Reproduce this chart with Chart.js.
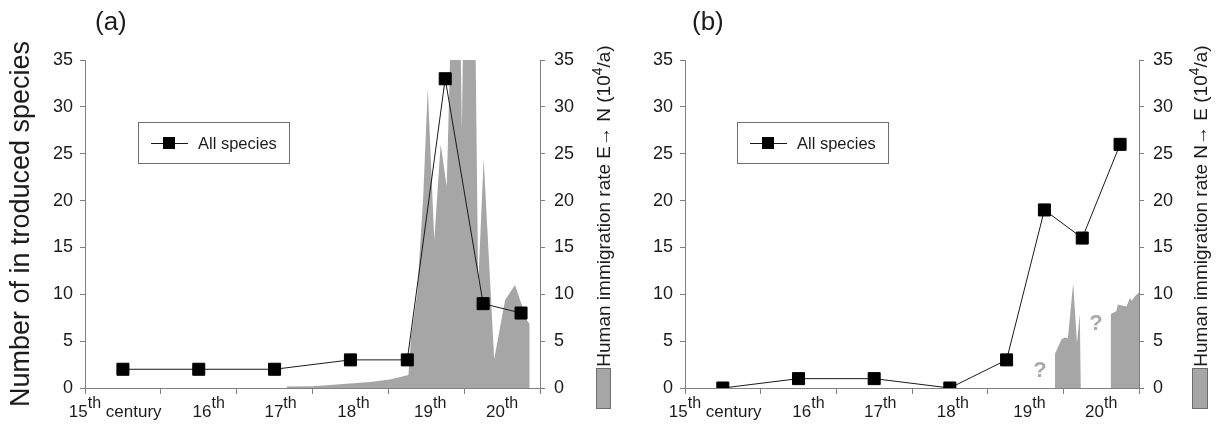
<!DOCTYPE html>
<html>
<head>
<meta charset="utf-8">
<script src="https://cdn.jsdelivr.net/npm/chart.js@4.4.1/dist/chart.umd.min.js"></script>
<style>
  html, body { margin: 0; padding: 0; background: #fff; }
  #wrap { display: flex; width: 1223px; height: 432px; }
  canvas { display: block; }
</style>
</head>
<body>
<div id="wrap">
  <canvas id="chartA" width="640" height="432"></canvas>
  <canvas id="chartB" width="583" height="432"></canvas>
</div>
<script>
'use strict';

// ---- values ----
const CENTURIES  = ['15', '16', '17', '18', '19', '20'];
const BIN_YEARS  = [1450, 1550, 1650, 1750, 1825, 1875, 1925, 1975];
const SPECIES_A  = [2, 2, 2, 3, 3, 33, 9, 8];
const SPECIES_B  = [0, 1, 1, 0, 3, 19, 16, 26];

// human immigration E -> N (panel a), 10^4 per year
const IMMIG_YEARS_A = [1666, 1666, 1700, 1745, 1776, 1802, 1826.5, 1830, 1838, 1846, 1852, 1860.6, 1869, 1877,
                       1883, 1894.7, 1897, 1899, 1914.5, 1918.5, 1925.7, 1939.6, 1954, 1967, 1983, 1986.4, 1986.4];
const IMMIG_RATE_A  = [0, 0.15, 0.2, 0.45, 0.65, 0.9, 1.4, 5.5, 10, 20.4, 32, 15.8, 26, 21.5,
                       40, 40, 27.6, 40, 40, 11, 24.5, 3.1, 9.4, 11, 7.2, 6.8, 0];

// human immigration N -> E (panel b)
const IMMIG_YEARS_B = [1888.8, 1888.8, 1897.6, 1902, 1906, 1913, 1918, 1921.8, 1923, 1962.8, 1962.8,
                       1970, 1972, 1983.5, 1988, 1990.5, 1994.5, 2000];
const IMMIG_RATE_B  = [0, 3.6, 5.2, 5.4, 5.3, 11.2, 4.8, 7.9, 0, 0, 7.9,
                       8.2, 8.9, 8.7, 9.6, 9.3, 9.8, 10.2];

// unknown-data markers in panel b
const UNKNOWN_B = [{ x: 1869, y: 1.8 }, { x: 1943, y: 6.8 }];

const FONT = "'Liberation Sans', Arial, sans-serif";
const TEXT = '#1c1c1c';
const AXIS = '#808080';
const AREA = '#a6a6a6';

Chart.defaults.font.family = FONT;

function drawRun(ctx, parts, x, y) {
  let cx = x;
  for (const p of parts) {
    ctx.font = `${p.size}px ${FONT}`;
    ctx.fillText(p.t, cx, y - (p.rise || 0));
    cx += ctx.measureText(p.t).width;
  }
  return cx - x;
}

function runWidth(ctx, parts) {
  let w = 0;
  for (const p of parts) {
    ctx.font = `${p.size}px ${FONT}`;
    w += ctx.measureText(p.t).width;
  }
  return w;
}

const panelDecor = {
  id: 'panelDecor',
  afterDraw(chart, args, o) {
    const { ctx, chartArea, scales } = chart;
    const xs = scales.x, ys = scales.y;
    ctx.save();
    ctx.fillStyle = TEXT;
    ctx.textAlign = 'left';
    ctx.textBaseline = 'alphabetic';

    // panel letter
    ctx.font = `26px ${FONT}`;
    ctx.fillText(o.panel, o.panelX, 30);

    // century labels with superscript "th"
    const shifts = [0, 10, 6, 3, 4, 0];
    const base = chartArea.bottom + 29;
    CENTURIES.forEach((c, i) => {
      const head = [{ t: c, size: 17 }, { t: 'th', size: 16, rise: 9 }];
      let x0;
      if (i === 0) {
        x0 = xs.getPixelForValue(1400) - runWidth(ctx, head) / 2;
        drawRun(ctx, head.concat([{ t: ' century', size: 17 }]), x0, base);
      } else {
        x0 = xs.getPixelForValue(1400 + i * 100 + 50) + shifts[i] - runWidth(ctx, head) / 2;
        drawRun(ctx, head, x0, base);
      }
    });

    // right axis title (rotated) with superscript exponent
    ctx.save();
    ctx.translate(o.titleX, 366.7);
    ctx.rotate(-Math.PI / 2);
    drawRun(ctx, [
      { t: 'Human immigration rate ' + o.dir + ' (10', size: 19 },
      { t: '4', size: 14, rise: 8 },
      { t: '/a)', size: 19 }
    ], 0, 0);
    ctx.restore();

    // swatch for the grey area below the title
    ctx.fillStyle = AREA;
    ctx.fillRect(o.swatch.x, o.swatch.y, o.swatch.w, o.swatch.h);
    ctx.strokeStyle = '#6e6e6e';
    ctx.lineWidth = 1;
    ctx.strokeRect(o.swatch.x + 0.5, o.swatch.y + 0.5, o.swatch.w, o.swatch.h);

    // legend box for the species series
    const lg = o.legend;
    ctx.strokeStyle = '#6e6e6e';
    ctx.strokeRect(lg.x + 0.5, lg.y + 0.5, lg.w, lg.h);
    const cy = lg.y + 21;
    ctx.strokeStyle = '#1a1a1a';
    ctx.beginPath();
    ctx.moveTo(lg.x + 13, cy + 0.5);
    ctx.lineTo(lg.x + 50, cy + 0.5);
    ctx.stroke();
    ctx.fillStyle = '#000';
    ctx.fillRect(lg.x + 25, cy - 6, 12, 12);
    ctx.fillStyle = TEXT;
    ctx.font = `16.5px ${FONT}`;
    ctx.fillText(chart.data.datasets[0].label, lg.x + 60, cy + 6);

    // question marks where data are missing
    if (o.unknown) {
      ctx.fillStyle = '#a9a9a9';
      ctx.font = `bold 22px ${FONT}`;
      ctx.textAlign = 'center';
      ctx.textBaseline = 'middle';
      o.unknown.forEach(p => ctx.fillText('?', xs.getPixelForValue(p.x), ys.getPixelForValue(p.y)));
    }
    ctx.restore();
  }
};

function speciesDataset(values) {
  return {
    label: 'All species',
    data: BIN_YEARS.map((x, i) => ({ x, y: values[i] })),
    yAxisID: 'y',
    borderColor: '#1a1a1a',
    borderWidth: 1,
    pointStyle: 'rect',
    pointRadius: 8.5,
    pointBackgroundColor: '#000',
    pointBorderColor: '#000',
    pointBorderWidth: 1,
    tension: 0,
    fill: false,
  };
}

function immigrationDataset(years, rates) {
  return {
    label: 'Human immigration rate',
    data: years.map((x, i) => ({ x, y: rates[i] })),
    yAxisID: 'y2',
    borderWidth: 0,
    borderColor: 'rgba(0,0,0,0)',
    backgroundColor: AREA,
    pointRadius: 0,
    fill: 'origin',
    tension: 0,
    clip: 0,
  };
}

function yAxis(position, width, pad, title) {
  return {
    position,
    min: 0,
    max: 35,
    ticks: { stepSize: 5, padding: pad, color: TEXT, font: { size: 18 } },
    grid: { drawOnChartArea: false, tickLength: 5, color: AXIS },
    border: { color: AXIS },
    title: title || { display: false },
    afterFit: s => { s.width = width; },
  };
}

function buildPanel(canvasId, cfg) {
  return new Chart(document.getElementById(canvasId), {
    type: 'line',
    data: { datasets: [speciesDataset(cfg.species), immigrationDataset(cfg.years, cfg.rates)] },
    options: {
      responsive: false,
      animation: false,
      events: [],
      layout: { padding: { top: 60, right: cfg.padRight, bottom: 0, left: 0 } },
      plugins: {
        legend: { display: false },
        tooltip: { enabled: false },
        panelDecor: cfg.decor,
      },
      scales: {
        x: {
          type: 'linear',
          min: 1400,
          max: 2000,
          ticks: { display: false, stepSize: 100 },
          grid: { drawOnChartArea: false, tickLength: 6, color: AXIS },
          border: { color: AXIS },
          afterFit: s => { s.height = 44; },
        },
        y: yAxis('left', cfg.leftWidth, 7, cfg.leftTitle),
        y2: yAxis('right', 60, 9),
      },
    },
    plugins: [panelDecor],
  });
}

buildPanel('chartA', {
  species: SPECIES_A,
  years: IMMIG_YEARS_A,
  rates: IMMIG_RATE_A,
  leftWidth: 85,
  padRight: 40,
  leftTitle: {
    display: true,
    text: 'Number of in troduced species',
    color: TEXT,
    font: { size: 27 },
    padding: { top: 5, bottom: 0 },
  },
  decor: {
    panel: '(a)', panelX: 95, dir: 'E\u2192 N', titleX: 610,
    swatch: { x: 596, y: 368, w: 14, h: 40 },
    legend: { x: 138, y: 122, w: 151, h: 41 },
  },
});

buildPanel('chartB', {
  species: SPECIES_B,
  years: IMMIG_YEARS_B,
  rates: IMMIG_RATE_B,
  leftWidth: 45,
  padRight: 24,
  decor: {
    panel: '(b)', panelX: 52, dir: 'N\u2192 E', titleX: 567,
    swatch: { x: 552, y: 368, w: 15, h: 40 },
    legend: { x: 97, y: 122, w: 151, h: 41 },
    unknown: UNKNOWN_B,
  },
});
</script>
</body>
</html>
